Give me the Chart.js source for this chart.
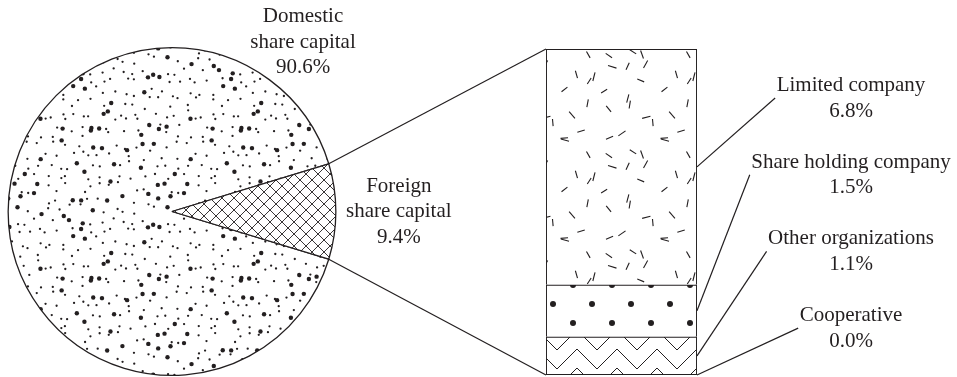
<!DOCTYPE html>
<html>
<head>
<meta charset="utf-8">
<title>Share capital structure</title>
<script src="https://cdn.jsdelivr.net/npm/chart.js@4.4.1/dist/chart.umd.min.js"></script>
<style>
  html, body { margin: 0; background: #fff; }
  #wrap { position: relative; width: 957px; height: 377px; }
  #wrap canvas { position: absolute; left: 0; top: 0; }
</style>
</head>
<body>
<div id="wrap">
  <canvas id="pieChart" width="957" height="377"></canvas>
  <canvas id="barChart" width="957" height="377"></canvas>
</div>
<script>
const pieLabels = [["Domestic", "share capital"], ["Foreign", "share capital"]];
const pieValues = [90.6, 9.4];

const barLabels = ["Limited company", "Share holding company", "Other organizations", "Cooperative"];
const barValues = [6.8, 1.5, 1.1, 0.0];

const INK = "#231f20";
const LINE_W = 1.3;
const FONT = '21px "Liberation Serif", "Times New Roman", serif';
const LINE_H = 25.7;

// callout column on the right
const CALLOUT_X = 851;
const CALLOUT_TOP = 91;
const CALLOUT_STEP = 76.7;

// seeded generator, used only for the textures
function mulberry(seed){
  return () => {
    seed |= 0; seed = seed + 0x6D2B79F5 | 0;
    let t = Math.imul(seed ^ seed >>> 15, 1 | seed);
    t = t + Math.imul(t ^ t >>> 7, 61 | t) ^ t;
    return ((t ^ t >>> 14) >>> 0) / 4294967296;
  };
}

function tile(ctx, w, h, paint){
  const c = document.createElement("canvas");
  c.width = w; c.height = h;
  const g = c.getContext("2d");
  g.fillStyle = "#fff";
  g.fillRect(0, 0, w, h);
  g.fillStyle = INK;
  g.strokeStyle = INK;
  paint(g, w, h);
  return ctx.createPattern(c, "repeat");
}

function wrapped(w, h, fn){
  for (const dx of [-w, 0, w]) for (const dy of [-h, 0, h]) fn(dx, dy);
}

function dotTexture(ctx){
  const rnd = mulberry(7);
  return tile(ctx, 150, 150, (g, w, h) => {
    const cell = 150 / 14;
    for (let i = 0; i < 14; i++){
      for (let j = 0; j < 14; j++){
        const x = (i + rnd()) * cell, y = (j + rnd()) * cell;
        const r = rnd() < 0.28 ? 2.2 : 1.15;
        wrapped(w, h, (dx, dy) => {
          g.beginPath(); g.arc(x + dx, y + dy, r, 0, Math.PI * 2); g.fill();
        });
      }
    }
  });
}

function hatchTexture(ctx){
  return tile(ctx, 12, 12, (g, w, h) => {
    g.lineWidth = 0.9;
    g.beginPath();
    for (const k of [-1, 0, 1]){
      g.moveTo(k * w, 0); g.lineTo(k * w + w, h);
      g.moveTo(k * w, h); g.lineTo(k * w + w, 0);
    }
    g.stroke();
  });
}

function dashTexture(ctx){
  const rnd = mulberry(21);
  return tile(ctx, 100, 100, (g, w, h) => {
    g.lineWidth = 1.1;
    const cell = 20;
    for (let i = 0; i < 5; i++){
      for (let j = 0; j < 5; j++){
        const x = (i + rnd()) * cell, y = (j + rnd()) * cell;
        const a = rnd() * Math.PI, l = 3.5 + rnd();
        const ux = Math.cos(a) * l, uy = Math.sin(a) * l;
        wrapped(w, h, (dx, dy) => {
          g.beginPath();
          g.moveTo(x + dx - ux, y + dy - uy);
          g.lineTo(x + dx + ux, y + dy + uy);
          g.stroke();
        });
      }
    }
  });
}

function spotTexture(ctx){
  return tile(ctx, 39, 38, (g) => {
    for (const [x, y] of [[7, 0], [7, 38], [27, 19]]){
      g.beginPath(); g.arc(x, y, 3, 0, Math.PI * 2); g.fill();
    }
  });
}

function zigzagTexture(ctx){
  return tile(ctx, 40, 19, (g) => {
    g.lineWidth = 1;
    g.beginPath();
    for (const oy of [-19, 0]){
      g.moveTo(-23, 7 + oy);
      g.lineTo(-3, 27 + oy);
      g.lineTo(17, 7 + oy);
      g.lineTo(37, 27 + oy);
      g.lineTo(57, 7 + oy);
    }
    g.stroke();
  });
}

function drawLine(ctx, x1, y1, x2, y2){
  ctx.beginPath();
  ctx.moveTo(x1, y1);
  ctx.lineTo(x2, y2);
  ctx.stroke();
}

function drawLines(ctx, lines, x, y){
  lines.forEach((t, k) => ctx.fillText(t, x, y + k * LINE_H));
}

/* pie on the left */

const pieCtx = document.getElementById("pieChart").getContext("2d");

const pieChart = new Chart(pieCtx, {
  type: "pie",
  data: {
    labels: pieLabels.map(l => l.join(" ")),
    datasets: [{
      data: pieValues,
      backgroundColor: [dotTexture(pieCtx), hatchTexture(pieCtx)],
      borderColor: INK,
      borderWidth: LINE_W
    }]
  },
  options: {
    responsive: false,
    animation: false,
    events: [],
    // second slice centred on 3 o'clock
    rotation: 90 + pieValues[1] * 1.8,
    layout: { padding: { left: 7, top: 47, right: 620, bottom: 1 } },
    plugins: { legend: { display: false }, tooltip: { enabled: false } }
  }
});

/* stacked bar on the right, with links and callouts */

const barCtx = document.getElementById("barChart").getContext("2d");
const barFills = [dashTexture(barCtx), spotTexture(barCtx), zigzagTexture(barCtx), "#fff"];

const barSets = [];
let below = 0;
for (let i = barLabels.length - 1; i >= 0; i--){
  barSets.push({
    label: barLabels[i],
    data: [barValues[i]],
    backgroundColor: barFills[i],
    borderColor: INK,
    borderWidth: { top: LINE_W, left: LINE_W, right: LINE_W, bottom: below === 0 ? LINE_W : 0 },
    borderSkipped: false,
    barPercentage: 1,
    categoryPercentage: 1
  });
  below += barValues[i];
}
const barTotal = below;

const linksPlugin = {
  id: "links",
  afterDraw(chart){
    const ctx = chart.ctx;
    const n = barLabels.length;
    const topBar = chart.getDatasetMeta(n - 1).data[0];
    const lowBar = chart.getDatasetMeta(0).data[0];
    const left = topBar.x - topBar.width / 2;
    const right = topBar.x + topBar.width / 2;

    const arc = pieChart.getDatasetMeta(0).data[1]
      .getProps(["x", "y", "startAngle", "endAngle", "outerRadius"]);
    const R = arc.outerRadius;

    ctx.save();
    ctx.strokeStyle = INK;
    ctx.lineWidth = 1.2;
    drawLine(ctx, arc.x + R * Math.cos(arc.startAngle), arc.y + R * Math.sin(arc.startAngle), left, topBar.y);
    drawLine(ctx, arc.x + R * Math.cos(arc.endAngle), arc.y + R * Math.sin(arc.endAngle), left, lowBar.base);

    ctx.font = FONT;
    ctx.fillStyle = INK;
    ctx.textAlign = "center";
    ctx.textBaseline = "alphabetic";

    // pie labels
    drawLines(ctx, [...pieLabels[0], pieValues[0].toFixed(1) + "%"], arc.x + 131, arc.y - 189.5);
    const mid = (arc.startAngle + arc.endAngle) / 2;
    drawLines(ctx, [...pieLabels[1], pieValues[1].toFixed(1) + "%"],
      arc.x + (R + 63) * Math.cos(mid), arc.y + (R + 63) * Math.sin(mid) - 20);

    // bar callouts
    barLabels.forEach((name, i) => {
      const el = chart.getDatasetMeta(n - 1 - i).data[0];
      const sy = (el.y + el.base) / 2;
      const by = CALLOUT_TOP + i * CALLOUT_STEP;
      const half = ctx.measureText(name).width / 2;
      drawLine(ctx, right, sy, CALLOUT_X - half - 1.5, by + 7);
      drawLines(ctx, [name, barValues[i].toFixed(1) + "%"], CALLOUT_X, by);
    });
    ctx.restore();
  }
};

const barChart = new Chart(barCtx, {
  type: "bar",
  data: { labels: [""], datasets: barSets },
  options: {
    responsive: false,
    animation: false,
    events: [],
    layout: { padding: { left: 546, top: 49, right: 260, bottom: 2 } },
    scales: {
      x: { display: false, stacked: true },
      y: { display: false, stacked: true, min: 0, max: barTotal }
    },
    plugins: { legend: { display: false }, tooltip: { enabled: false } }
  },
  plugins: [linksPlugin]
});
</script>
</body>
</html>
